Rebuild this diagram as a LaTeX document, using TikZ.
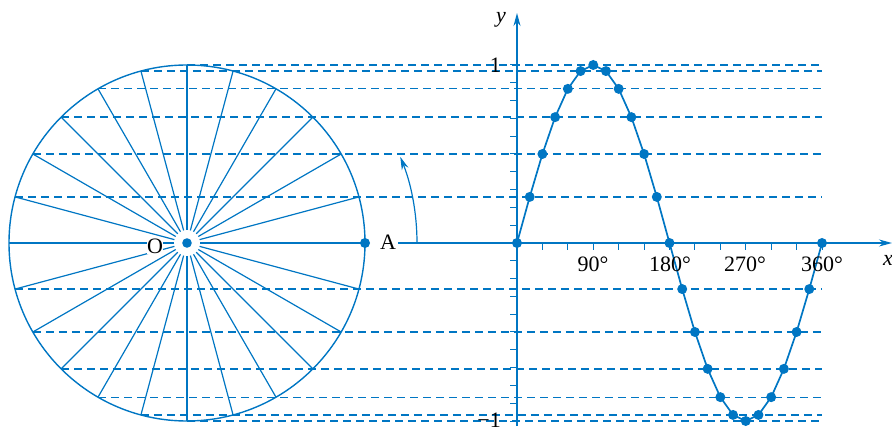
\documentclass[tikz,border=0pt]{standalone}
\usepackage{fontspec}
\setmainfont{Liberation Serif}
\usetikzlibrary{arrows.meta}
\definecolor{diag}{RGB}{0,118,195}
\begin{document}
\begin{tikzpicture}[x=1pt,y=1pt,
  line/.style={draw=diag,line width=1.2pt},
  dashline/.style={draw=diag,line width=1.3pt,dash pattern=on 8pt off 5pt},
  arr/.style={-{Stealth[length=13pt,width=7pt]}},
  lab/.style={font=\fontsize{22}{24}\selectfont,inner sep=1pt,text=black}]
\useasboundingbox (0,0) rectangle (892,426);
\coordinate (O) at (187,183);
% dashed projection lines
\foreach \a in {15,30,45,60,75,90,195,210,225,240,255,270}
  \draw[dashline] ({187-178*abs(cos(\a))},{183+178*sin(\a)}) -- (822,{183+178*sin(\a)});
% circle and radii
\draw[line,line width=1.4pt] (O) circle (178);
\foreach \a in {0,15,...,345}
  \draw[line] ([shift={(\a:13)}]O) -- ([shift={(\a:178)}]O);
\fill[diag] (O) circle (4.8);
\node[lab,fill=white,inner sep=0.5pt] (olab) at (155,180) {O};
\node[circle,fill=diag,inner sep=0pt,minimum size=10pt] (A) at (365,183) {};
\node[lab] (alab) at (388,184) {A};
% rotation arrow
\draw[line,arr] ([shift={(0:230)}]O) arc[start angle=0,end angle=22,radius=230];
% axes
\coordinate (xs) at (398,183);
\coordinate (xe) at (892,183);
\coordinate (ys) at (517,0);
\coordinate (ye) at (517,413);
\draw[line,arr] (xs) -- (xe);
\draw[line,arr] (ys) -- (ye);
\foreach \k in {-10,...,10}
  \draw[line,line width=1pt] (510,{183+17.8*\k}) -- (517,{183+17.8*\k});
\foreach \k in {1,...,12}
  \draw[line,line width=1pt] ({517+\k*25.4167},183) -- ({517+\k*25.4167},176);
% sine curve
\draw[line,line width=1.7pt] plot[domain=0:360,samples=25] ({517+\x*0.847222},{183+178*sin(\x)});
\foreach \a in {0,15,...,360}
  \fill[diag] ({517+\a*0.847222},{183+178*sin(\a)}) circle (5);
% labels
\node[lab] (l90) at (593,162) {90°};
\node[lab] (l180) at (670,162) {180°};
\node[lab] (l270) at (745,162) {270°};
\node[lab] (l360) at (822,162) {360°};
\node[lab,anchor=east] (lone) at (502,361) {1};
\node[lab,anchor=east] (lmone) at (502,6) {−1};
\node[lab,font=\fontsize{22}{24}\selectfont\itshape] (ylab) at (501,406) {y};
\node[lab,font=\fontsize{22}{24}\selectfont\itshape] (xlab) at (888,166) {x};
\end{tikzpicture}
\end{document}
